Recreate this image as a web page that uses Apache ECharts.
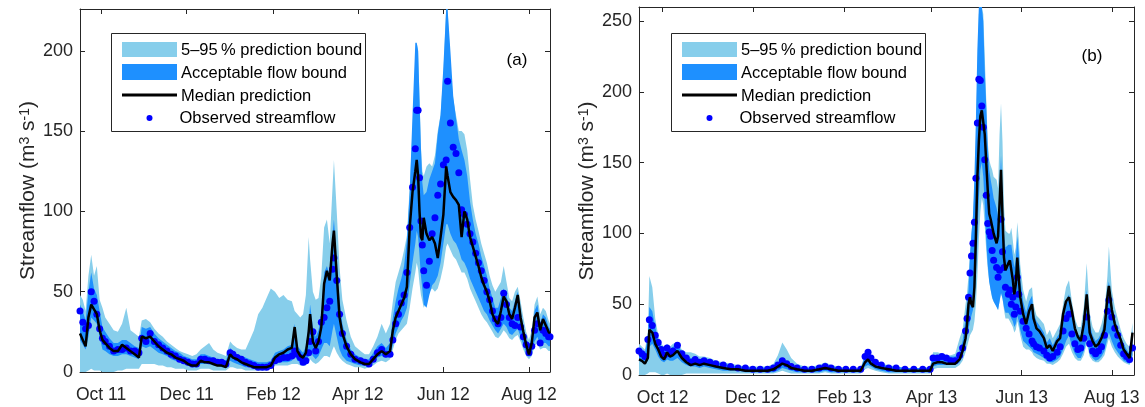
<!DOCTYPE html>
<html>
<head>
<meta charset="utf-8">
<script src="https://cdn.jsdelivr.net/npm/echarts@6/dist/echarts.min.js"></script>
<style>
html, body { margin: 0; padding: 0; background: #fff; }
#chart { width: 1145px; height: 407px; }
</style>
</head>
<body>
<div id="chart"></div>
<script>
// ---- panel (a): Sep 2011 - Aug 2012 ----
const datesA = [
  '2011-09-16','2011-09-18','2011-09-20','2011-09-22','2011-09-24','2011-09-26','2011-09-28','2011-09-30',
  '2011-10-02','2011-10-04','2011-10-07','2011-10-10','2011-10-13','2011-10-16','2011-10-19','2011-10-22','2011-10-25','2011-10-28','2011-10-30',
  '2011-11-02','2011-11-05','2011-11-08','2011-11-11','2011-11-14','2011-11-17','2011-11-20','2011-11-23','2011-11-26','2011-11-29',
  '2011-12-02','2011-12-05','2011-12-08','2011-12-11','2011-12-14','2011-12-17','2011-12-20','2011-12-23','2011-12-26','2011-12-29',
  '2012-01-01','2012-01-03','2012-01-06','2012-01-09','2012-01-12','2012-01-15','2012-01-18','2012-01-21','2012-01-24','2012-01-27','2012-01-30',
  '2012-02-02','2012-02-05','2012-02-08','2012-02-11','2012-02-14','2012-02-16','2012-02-18','2012-02-20','2012-02-22','2012-02-24','2012-02-26','2012-02-27','2012-02-29',
  '2012-03-02','2012-03-04','2012-03-06','2012-03-08','2012-03-10','2012-03-12','2012-03-14','2012-03-15','2012-03-17','2012-03-19','2012-03-21','2012-03-24','2012-03-27','2012-03-30',
  '2012-04-03','2012-04-06','2012-04-09','2012-04-12','2012-04-15','2012-04-18','2012-04-21','2012-04-24','2012-04-26','2012-04-28','2012-04-30',
  '2012-05-02','2012-05-04','2012-05-06','2012-05-08','2012-05-10','2012-05-12','2012-05-13','2012-05-14','2012-05-15','2012-05-16','2012-05-17','2012-05-18','2012-05-20','2012-05-22','2012-05-24','2012-05-26','2012-05-28','2012-05-30',
  '2012-06-01','2012-06-03','2012-06-04','2012-06-06','2012-06-08','2012-06-10','2012-06-12','2012-06-14','2012-06-16','2012-06-18','2012-06-20','2012-06-22','2012-06-24','2012-06-26','2012-06-28','2012-06-30',
  '2012-07-02','2012-07-04','2012-07-06','2012-07-08','2012-07-10','2012-07-12','2012-07-14','2012-07-16','2012-07-18','2012-07-20','2012-07-22','2012-07-24','2012-07-26','2012-07-28','2012-07-30',
  '2012-08-01','2012-08-03','2012-08-05','2012-08-07','2012-08-09','2012-08-11','2012-08-13','2012-08-15','2012-08-16'
];
// 5-95 % prediction bound
const p05A = [
  0,0,0,1,2,1,1,1,
  0,0,0,0,1,1,2,2,2,2,5,
  5,5,5,4,4,3,3,2,2,2,
  1,1,1,2,2,2,1,1,1,1,
  3,3,2,2,1,1,1,1,1,1,2,
  4,4,4,4,5,5,5,4,4,4,6,8,6,
  5,6,8,10,10,9,14,16,12,9,7,5,4,3,
  3,2,3,4,6,7,6,8,14,20,24,
  26,28,30,40,52,62,68,64,55,48,44,40,44,50,52,50,52,58,
  66,78,80,76,72,70,66,62,62,58,52,48,44,40,36,33,
  31,28,25,22,21,23,26,24,21,20,22,23,19,14,10,
  8,10,16,18,14,15,15,13,13
];
const p95A = [
  48,45,38,60,73,60,66,45,
  40,34,30,26,25,30,40,26,24,22,32,
  33,31,27,24,22,19,17,15,13,12,
  11,10,11,14,16,18,14,12,11,10,
  19,17,15,14,14,20,26,36,40,46,52,
  50,46,48,45,44,38,36,34,36,48,84,70,50,
  45,46,60,90,95,80,115,132,100,65,45,32,22,16,
  13,11,11,16,22,30,24,30,44,56,62,
  68,76,85,115,150,195,205,200,170,140,125,122,128,130,128,135,150,160,
  185,226,226,190,170,160,150,150,148,138,120,104,95,88,80,74,
  68,60,54,50,53,56,66,56,46,44,50,53,44,34,25,
  20,26,42,47,36,40,38,32,30
];
// acceptable flow bound
const accLoA = [
  20,17,14,22,34,32,30,22,
  14,13,11,10,10,11,11,10,9,8,16,
  15,16,14,12,11,10,8,7,6,5,
  4,3,3,5,5,5,4,4,3,3,
  7,6,5,4,3,3,2,2,2,2,3,
  5,6,6,6,7,10,7,6,5,6,10,14,10,
  8,10,14,18,18,16,26,30,22,14,10,7,6,5,
  4,4,4,6,9,10,9,10,17,24,28,
  32,35,40,55,68,80,88,84,72,60,52,42,40,48,54,56,60,68,
  80,92,92,86,82,80,76,70,68,64,58,54,50,46,42,38,
  36,32,29,26,24,27,30,28,24,23,25,27,22,17,12,
  10,12,19,22,17,18,18,16,16
];
const accHiA = [
  42,38,32,50,62,52,48,38,
  28,25,21,18,18,20,20,18,16,15,28,
  27,28,24,21,19,17,15,13,12,10,
  9,8,8,11,11,10,9,8,8,7,
  15,13,11,10,9,8,7,6,6,6,7,
  12,13,14,16,17,30,16,14,12,16,30,42,28,
  22,26,36,62,66,60,85,95,70,45,30,20,14,11,
  9,8,8,12,16,18,15,18,34,44,52,
  58,66,82,112,160,205,205,200,170,140,118,110,112,120,125,130,148,160,
  190,226,226,200,172,158,145,138,132,122,106,95,86,80,72,66,
  60,52,46,40,40,46,52,48,40,38,44,50,38,29,20,
  16,22,38,42,30,36,34,28,27
];
const medA = [
  24,20,16,34,42,39,36,26,
  20,18,15,13,13,17,15,13,11,9,22,
  21,22,19,16,14,12,11,9,8,7,
  5,4,4,7,6,6,5,4,4,3,
  11,9,8,6,5,4,3,3,3,3,4,
  9,11,12,14,15,28,13,10,9,12,25,36,19,
  15,19,28,55,63,57,80,88,60,34,24,16,11,8,
  6,5,5,8,11,13,11,13,26,34,38,
  42,46,53,90,112,125,132,122,100,84,82,96,86,82,84,80,71,84,
  98,128,122,112,109,107,104,84,100,95,84,78,72,66,59,54,
  50,44,36,32,30,38,47,44,36,33,40,48,34,25,17,
  11,18,34,37,26,33,29,25,24
];
const obsA = [
  38,31,27,29,50,44,36,27,
  21,19,16,13,14,14,15,13,13,12,21,
  19,24,19,17,15,13,11,10,8,7,
  6,5,5,8,8,7,7,6,6,5,
  12,11,9,8,6,5,4,3,3,3,4,
  7,8,9,9,10,13,11,9,6,7,12,19,25,
  13,19,31,34,40,44,64,71,57,36,24,16,11,8,
  7,6,5,8,12,14,11,11,20,30,36,
  43,48,62,90,115,139,163,163,121,94,79,63,54,69,86,96,110,117,
  129,132,181,155,140,136,124,101,98,92,86,81,74,68,63,57,
  50,45,38,33,30,34,49,42,34,30,29,34,28,22,17,
  12,16,26,30,18,26,24,22,22
];

// ---- panel (b): Sep 2012 - Aug 2013 ----
const datesB = [
  '2012-09-15','2012-09-17','2012-09-19','2012-09-21','2012-09-22','2012-09-24','2012-09-26','2012-09-28','2012-09-30',
  '2012-10-02','2012-10-04','2012-10-06','2012-10-08','2012-10-11','2012-10-14','2012-10-17','2012-10-20','2012-10-23','2012-10-26','2012-10-29',
  '2012-11-02','2012-11-06','2012-11-11','2012-11-16','2012-11-21','2012-11-26',
  '2012-12-01','2012-12-06','2012-12-11','2012-12-15','2012-12-18','2012-12-21','2012-12-24','2012-12-27','2012-12-31',
  '2013-01-05','2013-01-10','2013-01-15','2013-01-19','2013-01-23','2013-01-28',
  '2013-02-02','2013-02-07','2013-02-12','2013-02-15','2013-02-17','2013-02-19','2013-02-22','2013-02-26',
  '2013-03-03','2013-03-08','2013-03-14','2013-03-20','2013-03-26','2013-03-31',
  '2013-04-02','2013-04-05','2013-04-08','2013-04-11','2013-04-14','2013-04-17','2013-04-20','2013-04-22','2013-04-24','2013-04-25','2013-04-26','2013-04-27','2013-04-28','2013-04-29','2013-04-30',
  '2013-05-01','2013-05-02','2013-05-03','2013-05-04','2013-05-05','2013-05-06','2013-05-07','2013-05-08','2013-05-09','2013-05-10',
  '2013-05-11','2013-05-12','2013-05-13','2013-05-15','2013-05-16','2013-05-17','2013-05-18','2013-05-19','2013-05-20','2013-05-21',
  '2013-05-23','2013-05-24','2013-05-25','2013-05-26','2013-05-27','2013-05-28','2013-05-29','2013-05-30','2013-05-31',
  '2013-06-02','2013-06-04','2013-06-06','2013-06-08','2013-06-09','2013-06-11','2013-06-13','2013-06-16','2013-06-18','2013-06-20','2013-06-22','2013-06-25','2013-06-27','2013-06-29',
  '2013-07-01','2013-07-03','2013-07-05','2013-07-07','2013-07-09','2013-07-11','2013-07-13','2013-07-15','2013-07-17','2013-07-19','2013-07-21','2013-07-23','2013-07-25','2013-07-27','2013-07-29','2013-07-30',
  '2013-08-01','2013-08-03','2013-08-05','2013-08-07','2013-08-09','2013-08-11','2013-08-13','2013-08-15'
];
const p05B = [
  0,0,0,1,2,2,2,1,0,
  0,1,0,0,0,0,1,1,1,1,1,
  1,1,1,1,1,1,
  1,1,1,1,2,3,2,1,1,
  1,1,1,2,1,1,
  1,1,1,4,5,4,3,2,
  1,1,1,1,1,1,
  4,5,5,5,5,5,7,10,16,20,24,28,30,32,38,
  50,70,95,115,125,120,105,88,75,66,
  60,54,52,48,46,52,58,54,46,40,
  40,38,36,34,30,32,38,34,28,
  20,18,18,16,14,12,11,10,8,8,7,9,11,15,
  20,22,16,12,10,10,14,22,13,10,9,9,11,14,22,26,
  20,16,13,11,9,8,7,12
];
const p95B = [
  22,20,18,30,70,62,40,28,22,
  20,22,20,22,23,18,16,16,15,13,13,
  12,10,9,8,7,6,
  6,6,6,8,14,23,18,12,8,
  6,6,7,9,7,6,
  5,5,5,15,17,13,10,8,
  7,6,5,5,5,6,
  16,16,15,14,14,15,26,32,50,58,70,85,100,112,130,
  165,215,255,260,260,255,225,195,165,152,
  148,145,140,138,132,170,192,165,120,102,
  100,100,104,95,85,90,108,96,78,
  60,52,60,62,50,42,40,36,28,32,26,32,36,50,
  62,67,52,40,34,34,48,79,44,34,30,30,36,45,70,91,
  60,48,40,32,26,22,20,37
];
const accLoB = [
  10,9,8,10,20,22,18,13,10,
  9,11,10,10,12,9,7,6,6,5,6,
  5,4,3,3,3,2,
  2,2,2,2,3,5,4,3,2,
  2,2,2,3,2,2,
  2,2,2,6,7,6,4,3,
  2,2,2,2,2,2,
  6,7,7,7,7,7,9,13,22,27,32,38,42,46,54,
  70,95,125,145,150,140,120,95,78,66,
  60,55,52,48,46,52,58,54,48,44,
  44,42,40,38,34,36,42,38,32,
  24,22,20,18,16,15,14,12,10,9,9,11,13,18,
  24,28,20,15,12,12,17,26,15,12,10,11,13,17,26,30,
  24,19,16,13,10,9,8,14
];
const accHiB = [
  18,17,15,28,48,45,34,25,20,
  17,21,18,20,22,16,14,12,12,11,12,
  11,9,8,7,6,6,
  5,5,5,6,8,11,9,7,6,
  5,5,6,7,6,5,
  4,4,4,14,16,12,10,8,
  6,6,5,5,5,5,
  14,14,14,13,13,13,17,24,40,50,60,85,100,112,140,
  180,230,260,260,260,250,215,190,162,145,
  138,132,125,118,112,130,155,128,100,90,
  92,92,92,84,76,82,98,86,68,
  52,44,52,56,44,38,35,30,23,26,21,27,30,42,
  52,57,44,34,28,28,40,60,36,28,24,26,30,38,60,66,
  50,40,33,27,22,18,15,32
];
const medB = [
  11,10,8,12,32,30,22,18,13,
  11,16,13,14,17,12,9,7,8,7,8,
  7,6,5,4,4,3,
  3,3,3,4,6,8,7,5,4,
  3,3,4,5,4,3,
  3,3,3,9,11,8,6,5,
  4,3,3,3,3,3,
  8,9,9,8,8,8,11,17,26,36,50,55,50,48,62,
  98,140,165,183,187,186,170,150,131,114,
  110,105,100,93,98,121,145,112,83,74,
  79,81,81,67,57,64,83,69,55,
  43,36,45,50,40,33,31,26,19,21,17,24,26,43,
  52,55,45,33,27,24,36,57,30,24,20,22,26,32,55,63,
  46,36,30,25,18,15,12,30
];
const obsB = [
  17,15,13,25,39,35,28,23,18,
  14,19,15,17,21,15,12,9,11,9,10,
  9,8,7,6,5,5,
  4,4,4,5,7,10,8,6,5,
  4,4,5,6,5,4,
  4,4,4,13,16,12,9,7,
  5,5,4,4,4,4,
  12,12,13,12,10,10,14,19,31,40,55,72,84,93,108,
  139,178,209,208,190,175,152,127,107,101,
  98,88,81,76,69,74,110,87,76,62,
  57,60,50,55,43,48,69,57,45,
  38,33,29,24,22,20,19,17,14,12,13,16,20,31,
  40,43,29,22,18,19,26,41,22,17,15,17,20,28,45,53,
  41,33,28,21,15,13,11,19
];

// axes
const xRangeA = ['2011-09-16', '2012-08-16'];
const xRangeB = ['2012-09-15', '2013-08-16'];
const xTicksA = ['2011-10-01','2011-12-01','2012-02-01','2012-04-01','2012-06-01','2012-08-01'];
const xTicksB = ['2012-10-01','2012-12-01','2013-02-01','2013-04-01','2013-06-01','2013-08-01'];
const yMaxA = 226;
const yMaxB = 260;
const yTicksA = [0, 50, 100, 150, 200];
const yTicksB = [0, 50, 100, 150, 200, 250];
const monthNames = ['Jan','Feb','Mar','Apr','May','Jun','Jul','Aug','Sep','Oct','Nov','Dec'];

const FONT = '"Liberation Sans", Arial, Helvetica, sans-serif';
const AXIS_COLOR = '#262626';
const LIGHT = '#87ceeb';
const DARK = '#1e90ff';
const DOT = '#0000ff';

function ts(s) {
  const p = s.split('-');
  return new Date(+p[0], +p[1] - 1, +p[2]).getTime();
}
function fmtDate(v) {
  const d = new Date(v);
  return monthNames[d.getMonth()] + ' ' + String(d.getFullYear()).slice(2);
}

// a filled band between lo and hi, one polygon through the axis scales
function bandSeries(k, x, lo, hi, color) {
  return {
    type: 'custom', xAxisIndex: k, yAxisIndex: k, silent: true, clip: true,
    data: x.map((t, i) => [t, lo[i], hi[i]]),
    encode: { x: 0, y: [1, 2] },
    renderItem: function (params, api) {
      if (params.dataIndex !== 0) return null;
      const upper = x.map((t, i) => api.coord([t, hi[i]]));
      const lower = x.map((t, i) => api.coord([t, lo[i]])).reverse();
      return { type: 'polygon', shape: { points: upper.concat(lower) }, style: { fill: color } };
    }
  };
}

function panelSeries(k, dates, p05, p95, accLo, accHi, med, obs) {
  const x = dates.map(ts);
  const pts = arr => arr.map((v, i) => [x[i], v]);
  return [
    bandSeries(k, x, p05, p95, LIGHT),
    bandSeries(k, x, accLo, accHi, DARK),
    { type: 'line', xAxisIndex: k, yAxisIndex: k, symbol: 'none', silent: true, data: pts(med),
      lineStyle: { color: '#000', width: 2.5 }, emphasis: { disabled: true } },
    { type: 'scatter', xAxisIndex: k, yAxisIndex: k, data: pts(obs), symbolSize: 7, silent: true,
      itemStyle: { color: DOT, opacity: 1 } }
  ];
}

// x axes are value axes holding timestamps, ticks on the first day of every other month
function xAxisFor(k, range, ticks, top) {
  return {
    type: 'value', gridIndex: k, position: top ? 'top' : 'bottom',
    min: ts(range[0]), max: ts(range[1]), scale: true,
    axisLine: { show: true, onZero: false, lineStyle: { color: AXIS_COLOR, width: 1 } },
    axisTick: { show: true, inside: true, length: 5, customValues: ticks.map(ts), lineStyle: { color: AXIS_COLOR } },
    axisLabel: { show: !top, customValues: ticks.map(ts), formatter: fmtDate, margin: 14,
      fontSize: 17.5, fontFamily: FONT, color: AXIS_COLOR },
    splitLine: { show: false }, minorTick: { show: false }
  };
}
function yAxisFor(k, max, ticks, right, gap) {
  return {
    type: 'value', gridIndex: k, position: right ? 'right' : 'left', min: 0, max: max,
    axisLine: { show: true, onZero: false, lineStyle: { color: AXIS_COLOR, width: 1 } },
    axisTick: { show: true, inside: true, length: 5, customValues: ticks, lineStyle: { color: AXIS_COLOR } },
    axisLabel: { show: !right, customValues: ticks, margin: 7, fontSize: 18, fontFamily: FONT, color: AXIS_COLOR },
    splitLine: { show: false },
    name: right ? '' : '{t|Streamflow (m}{s|3}{t| s}{s|-1}{t|)}',
    nameLocation: 'middle', nameGap: gap, nameRotate: 90,
    nameTextStyle: { color: AXIS_COLOR, fontFamily: FONT, fontSize: 21,
      rich: { t: { fontSize: 21, fontFamily: FONT, color: AXIS_COLOR, verticalAlign: 'bottom' },
              s: { fontSize: 14, fontFamily: FONT, color: AXIS_COLOR, verticalAlign: 'top' } } }
  };
}

function legendBox(x0, y0) {
  const txt = (x, y, s) => ({ type: 'text', x: x, y: y,
    style: { text: s, font: '16.5px ' + FONT, fill: '#000', align: 'left', verticalAlign: 'middle' } });
  return {
    type: 'group', x: x0, y: y0, silent: true,
    children: [
      { type: 'rect', shape: { x: 0.5, y: 0.5, width: 254, height: 98 },
        style: { fill: '#fff', stroke: AXIS_COLOR, lineWidth: 1 } },
      { type: 'rect', shape: { x: 11, y: 9, width: 55, height: 15 }, style: { fill: LIGHT } },
      txt(70, 17, '5\u201395\u2009% prediction bound'),
      { type: 'rect', shape: { x: 11, y: 31, width: 55, height: 16 }, style: { fill: DARK } },
      txt(70, 40, 'Acceptable flow bound'),
      { type: 'line', shape: { x1: 11, y1: 62, x2: 66, y2: 62 }, style: { stroke: '#000', lineWidth: 3 } },
      txt(70, 63, 'Median prediction'),
      { type: 'circle', shape: { cx: 38.5, cy: 85, r: 3 }, style: { fill: DOT } },
      txt(68.5, 85, 'Observed streamflow')
    ]
  };
}

const chart = echarts.init(document.getElementById('chart'), null, { renderer: 'canvas' });
chart.setOption({
  animation: false,
  backgroundColor: '#fff',
  grid: [
    { left: 80, top: 9, width: 470, height: 363 },
    { left: 639, top: 7, width: 495, height: 368 }
  ],
  xAxis: [
    xAxisFor(0, xRangeA, xTicksA, false),
    xAxisFor(1, xRangeB, xTicksB, false),
    xAxisFor(0, xRangeA, xTicksA, true),
    xAxisFor(1, xRangeB, xTicksB, true)
  ],
  yAxis: [
    yAxisFor(0, yMaxA, yTicksA, false, 37),
    yAxisFor(1, yMaxB, yTicksB, false, 40),
    yAxisFor(0, yMaxA, yTicksA, true, 0),
    yAxisFor(1, yMaxB, yTicksB, true, 0)
  ],
  series: [
    ...panelSeries(0, datesA, p05A, p95A, accLoA, accHiA, medA, obsA),
    ...panelSeries(1, datesB, p05B, p95B, accLoB, accHiB, medB, obsB)
  ],
  graphic: [
    legendBox(111, 33),
    legendBox(671, 33),
    { type: 'text', x: 517, y: 60, silent: true,
      style: { text: '(a)', font: '17px ' + FONT, fill: '#000', align: 'center', verticalAlign: 'middle' } },
    { type: 'text', x: 1092, y: 56, silent: true,
      style: { text: '(b)', font: '17px ' + FONT, fill: '#000', align: 'center', verticalAlign: 'middle' } }
  ]
});
</script>
</body>
</html>
